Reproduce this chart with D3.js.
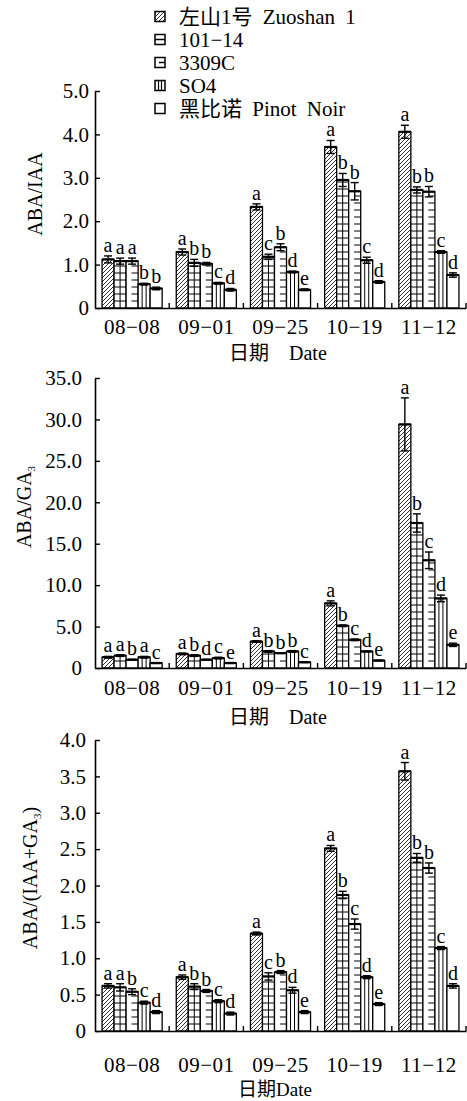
<!DOCTYPE html>
<html>
  <head>
    <meta charset="utf-8">
    <style>
    body { margin: 0; background: #fff; }
    svg { display: block; }
    text { font-family: "Liberation Serif", "Noto Sans CJK SC", serif; fill: #000; }
    </style>
  </head>
  <body>
    <div id="chart-area"></div>

    <script src="https://d3js.org/d3.v7.min.js"></script>
    <script>
      // categories
      const dates = ["08−08", "09−01", "09−25", "10−19", "11−12"];
      const cultivars = ["左山1号 Zuoshan 1", "101−14", "3309C", "SO4", "黑比诺 Pinot Noir"];

      // ABA/IAA, one array per cultivar (order of dates)
      const iaaZuoshan = [1.12, 1.29, 2.33, 3.71, 4.06];
      const iaa10114 = [1.08, 1.04, 1.18, 2.95, 2.72];
      const iaa3309C = [1.08, 1.02, 1.40, 2.69, 2.68];
      const iaaSO4 = [0.55, 0.57, 0.83, 1.10, 1.29];
      const iaaPinot = [0.45, 0.42, 0.42, 0.60, 0.76];
      const iaaErr = [[0.08, 0.07, 0.07, 0.15, 0.15], [0.07, 0.08, 0.06, 0.15, 0.07],
                      [0.07, 0.03, 0.08, 0.20, 0.12], [0.02, 0.02, 0.02, 0.07, 0.03],
                      [0.03, 0.03, 0.02, 0.03, 0.05]];
      const iaaLetters = [["a","a","a","a","a"], ["a","b","c","b","b"], ["a","b","b","b","b"],
                          ["b","c","d","c","c"], ["b","d","e","d","d"]];

      // ABA/GA3
      const gaZuoshan = [1.3, 1.7, 3.2, 7.8, 29.4];
      const ga10114 = [1.5, 1.5, 2.0, 5.1, 17.5];
      const ga3309C = [1.0, 1.0, 1.8, 3.4, 13.0];
      const gaSO4 = [1.3, 1.2, 2.0, 2.0, 8.4];
      const gaPinot = [0.6, 0.6, 0.7, 0.9, 2.8];
      const gaErr = [[0.1, 0.1, 0.1, 0.3, 3.2], [0.1, 0.1, 0.1, 0.1, 1.1],
                     [0.05, 0.05, 0.05, 0.1, 1.0], [0.1, 0.1, 0.1, 0.05, 0.4],
                     [0.05, 0.05, 0.05, 0.05, 0.2]];
      const gaLetters = [["a","a","a","a","a"], ["a","b","b","b","b"], ["b","d","b","c","c"],
                         ["a","c","b","d","d"], ["c","e","c","e","e"]];

      // ABA/(IAA+GA3)
      const sumZuoshan = [0.62, 0.74, 1.34, 2.51, 3.57];
      const sum10114 = [0.60, 0.61, 0.75, 1.87, 2.38];
      const sum3309C = [0.54, 0.55, 0.81, 1.47, 2.24];
      const sumSO4 = [0.39, 0.41, 0.56, 0.74, 1.14];
      const sumPinot = [0.26, 0.24, 0.26, 0.37, 0.62];
      const sumErr = [[0.03, 0.03, 0.02, 0.04, 0.12], [0.05, 0.04, 0.05, 0.05, 0.06],
                      [0.04, 0.02, 0.02, 0.07, 0.07], [0.02, 0.02, 0.04, 0.02, 0.02],
                      [0.02, 0.02, 0.02, 0.02, 0.03]];
      const sumLetters = [["a","a","a","a","a"], ["a","b","c","b","b"], ["b","b","b","c","b"],
                          ["c","c","d","d","c"], ["d","d","e","e","d"]];

      const iaaTicks = [0, 1, 2, 3, 4, 5];
      const gaTicks = [0, 5, 10, 15, 20, 25, 30, 35];
      const sumTicks = [0, 0.5, 1, 1.5, 2, 2.5, 3, 3.5, 4];

      const width = 467;
      const height = 1101;

      const svg = d3.select("#chart-area")
        .append("svg")
          .attr("width", width)
          .attr("height", height);

      // diagonal hatch for Zuoshan 1
      svg.append("defs").append("pattern")
          .attr("id", "hatch")
          .attr("patternUnits", "userSpaceOnUse")
          .attr("width", 4)
          .attr("height", 4)
        .append("path")
          .attr("d", "M-1,1 l2,-2 M0,4 l4,-4 M3,5 l2,-2")
          .attr("stroke", "#000")
          .attr("stroke-width", 0.8);

      const x = d3.scaleBand()
        .domain(dates)
        .range([95, 466])
        .paddingInner(0.19)
        .paddingOuter(0.095);

      const xs = d3.scaleBand()
        .domain(d3.range(cultivars.length))
        .range([0, x.bandwidth()]);

      const fmt = d => d === 0 ? "0" : d3.format(".1f")(d);

      // draws the inner marks of one bar
      function decorate(g, i, bx, bw, top, bottom) {
        const line = (x1, y1, x2, y2) => g.append("line")
          .attr("x1", x1).attr("y1", y1).attr("x2", x2).attr("y2", y2)
          .attr("stroke", "#000").attr("stroke-width", 1);
        if (i === 1) {
          for (let yy = bottom - 7; yy > top + 2; yy -= 7) line(bx, yy, bx + bw, yy);
          line(bx + bw / 2, top, bx + bw / 2, bottom);
        } else if (i === 2) {
          for (let yy = bottom - 7; yy > top + 2; yy -= 7) line(bx + bw * 0.45, yy, bx + bw, yy);
        } else if (i === 3) {
          line(bx + bw / 3, top, bx + bw / 3, bottom);
          line(bx + 2 * bw / 3, top, bx + 2 * bw / 3, bottom);
        }
      }

      function drawPanel(opts) {
        const y = d3.scaleLinear()
          .domain(opts.domain)
          .range(opts.range);

        const g = svg.append("g");
        const y0 = y(0);

        // bars
        opts.series.forEach((vals, i) => {
          vals.forEach((v, j) => {
            const bx = x(dates[j]) + xs(i);
            const bw = xs.bandwidth();
            const top = y(v);
            const bar = g.append("g");
            bar.append("rect")
              .attr("x", bx)
              .attr("y", top)
              .attr("width", bw)
              .attr("height", y0 - top)
              .attr("fill", i === 0 ? "url(#hatch)" : "#fff")
              .attr("stroke", "#000")
              .attr("stroke-width", 1.3);
            decorate(bar, i, bx, bw, top, y0);
            bar.append("line")
              .attr("x1", bx).attr("x2", bx + bw)
              .attr("y1", top).attr("y2", top)
              .attr("stroke", "#000").attr("stroke-width", 2.2);

            // error bar
            const e = opts.err[i][j];
            const cx = bx + bw / 2;
            const eb = bar.append("g").attr("stroke", "#000").attr("stroke-width", 1.4);
            eb.append("line").attr("x1", cx).attr("x2", cx).attr("y1", y(v - e)).attr("y2", y(v + e));
            eb.append("line").attr("x1", cx - 4).attr("x2", cx + 4).attr("y1", y(v + e)).attr("y2", y(v + e));
            eb.append("line").attr("x1", cx - 4).attr("x2", cx + 4).attr("y1", y(v - e)).attr("y2", y(v - e));

            // significance letter
            g.append("text")
              .attr("x", cx)
              .attr("y", y(v + e) - 4)
              .attr("text-anchor", "middle")
              .style("font-size", "20px")
              .text(opts.letters[i][j]);
          });
        });

        // y axis with inward ticks
        const yAxis = g.append("g")
          .attr("transform", "translate(95,0)")
          .call(d3.axisLeft(y).tickValues(opts.ticks).tickFormat(fmt)
            .tickSize(-5).tickSizeOuter(0).tickPadding(opts.pad));
        yAxis.selectAll("text").style("font-size", "21px");

        // x axis, ticks between the groups
        const xAxis = g.append("g")
          .attr("transform", `translate(0,${y0})`)
          .call(d3.axisBottom(x).tickSize(0).tickSizeOuter(0).tickPadding(opts.xpad));
        xAxis.selectAll("text").style("font-size", "21px").style("letter-spacing", "0.5px");
        g.selectAll(".domain").attr("stroke-width", 1.6);
        g.selectAll(".tick line").attr("stroke-width", 1.4);

        const gap = x.step() * x.paddingInner();
        g.selectAll(".sep")
          .data(dates)
          .join("line")
            .attr("x1", d => x(d) + x.bandwidth() + gap / 2)
            .attr("x2", d => x(d) + x.bandwidth() + gap / 2)
            .attr("y1", y0)
            .attr("y2", y0 - 5)
            .attr("stroke", "#000")
            .attr("stroke-width", 1.4);

        // y label (rotated)
        const yl = g.append("text")
          .attr("transform", `translate(${opts.labelX},${opts.labelY}) rotate(-90)`)
          .attr("text-anchor", "middle")
          .style("font-size", "20px");
        opts.label.forEach(p => {
          const t = yl.append("tspan").text(p.t);
          if (p.sub) t.attr("dy", 4).style("font-size", "11px");
          else if (p.back) t.attr("dy", -4);
        });

        // x label
        g.append("text")
          .attr("x", opts.titleX)
          .attr("y", opts.titleY)
          .style("font-size", opts.titleSize)
          .text(opts.title);
      }

      drawPanel({
        domain: [0, 5], range: [308, 91], ticks: iaaTicks, pad: 6, xpad: 11,
        series: [iaaZuoshan, iaa10114, iaa3309C, iaaSO4, iaaPinot],
        err: iaaErr, letters: iaaLetters,
        label: [{t: "ABA/IAA"}], labelX: 42, labelY: 194,
        title: "日期　Date", titleX: 229, titleY: 360, titleSize: "20px"
      });

      drawPanel({
        domain: [0, 35], range: [668, 378], ticks: gaTicks, pad: 13, xpad: 12,
        series: [gaZuoshan, ga10114, ga3309C, gaSO4, gaPinot],
        err: gaErr, letters: gaLetters,
        label: [{t: "ABA/GA"}, {t: "3", sub: true}], labelX: 31, labelY: 507,
        title: "日期　Date", titleX: 229, titleY: 724, titleSize: "20px"
      });

      drawPanel({
        domain: [0, 4], range: [1031, 740], ticks: sumTicks, pad: 9, xpad: 26,
        series: [sumZuoshan, sum10114, sum3309C, sumSO4, sumPinot],
        err: sumErr, letters: sumLetters,
        label: [{t: "ABA/(IAA+GA"}, {t: "3", sub: true}, {t: ")", back: true}], labelX: 37, labelY: 878,
        title: "日期Date", titleX: 238, titleY: 1096, titleSize: "19px"
      });

      // legend
      const legend = svg.append("g");
      cultivars.forEach((name, i) => {
        const ly = 16.5 + i * 23;
        const row = legend.append("g");
        row.append("rect")
          .attr("x", 155).attr("y", ly - 5)
          .attr("width", 10).attr("height", 10)
          .attr("fill", i === 0 ? "url(#hatch)" : "#fff")
          .attr("stroke", "#000").attr("stroke-width", 1.5);
        if (i === 1) {
          row.append("line").attr("x1", 155).attr("x2", 165).attr("y1", ly).attr("y2", ly)
            .attr("stroke", "#000").attr("stroke-width", 1.5);
        } else if (i === 2) {
          row.append("line").attr("x1", 159).attr("x2", 165).attr("y1", ly).attr("y2", ly)
            .attr("stroke", "#000").attr("stroke-width", 1.5);
        } else if (i === 3) {
          row.append("line").attr("x1", 158.5).attr("x2", 158.5).attr("y1", ly - 5).attr("y2", ly + 5)
            .attr("stroke", "#000").attr("stroke-width", 1.2);
          row.append("line").attr("x1", 161.5).attr("x2", 161.5).attr("y1", ly - 5).attr("y2", ly + 5)
            .attr("stroke", "#000").attr("stroke-width", 1.2);
        }
        row.append("text")
          .attr("x", 179)
          .attr("y", ly + 7)
          .style("font-size", "21px")
          .style("word-spacing", "5px")
          .text(name);
      });
    </script>
  </body>
</html>
